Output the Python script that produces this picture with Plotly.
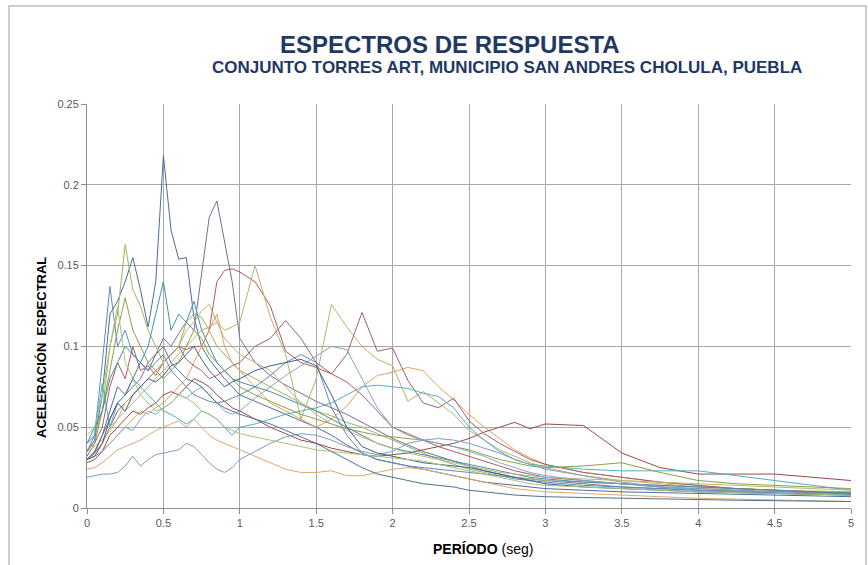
import plotly.graph_objects as go

# Period grid (seg)
PERIOD = [0.00, 0.05, 0.10, 0.15, 0.20, 0.25, 0.30, 0.35, 0.40, 0.45, 0.50, 0.55, 0.60, 0.65, 0.70,
          0.75, 0.80, 0.85, 0.90, 0.95, 1.00,
          1.1, 1.2, 1.3, 1.4, 1.5, 1.6, 1.7, 1.8, 1.9, 2.0, 2.1, 2.2, 2.3, 2.4, 2.5, 2.6, 2.7, 2.8, 2.9, 3.0,
          3.25, 3.5, 3.75, 4.0, 4.25, 4.5, 4.75, 5.0]

S1 = [0.035, 0.042, 0.07, 0.12, 0.128, 0.14, 0.155, 0.135, 0.112, 0.14, 0.218, 0.172, 0.154, 0.155, 0.118, 0.1, 0.092, 0.086, 0.08, 0.075, 0.07,
      0.066, 0.062, 0.058, 0.054, 0.05, 0.045, 0.039, 0.034, 0.03, 0.028, 0.026, 0.024, 0.022, 0.02, 0.018, 0.016, 0.015, 0.014, 0.013, 0.012,
      0.011, 0.01, 0.0095, 0.009, 0.0085, 0.008, 0.0075, 0.007]
S2 = [0.03, 0.034, 0.045, 0.055, 0.065, 0.07, 0.075, 0.08, 0.09, 0.095, 0.105, 0.1, 0.108, 0.115, 0.11, 0.145, 0.18, 0.19, 0.165, 0.14, 0.105,
      0.09, 0.082, 0.076, 0.071, 0.066, 0.062, 0.058, 0.053, 0.048, 0.043, 0.039, 0.035, 0.032, 0.029, 0.026, 0.023, 0.021, 0.019, 0.018, 0.017,
      0.015, 0.013, 0.012, 0.011, 0.0105, 0.01, 0.0095, 0.009]
S3 = [0.032, 0.04, 0.05, 0.075, 0.09, 0.08, 0.1, 0.085, 0.088, 0.082, 0.09, 0.095, 0.1, 0.098, 0.1, 0.1, 0.11, 0.14, 0.147, 0.148, 0.146,
      0.14, 0.125, 0.097, 0.09, 0.087, 0.083, 0.078, 0.07, 0.06, 0.05, 0.046, 0.042, 0.038, 0.035, 0.032, 0.029, 0.026, 0.023, 0.021, 0.019,
      0.017, 0.015, 0.013, 0.012, 0.011, 0.01, 0.0095, 0.009]
S4 = [0.04, 0.045, 0.06, 0.1, 0.12, 0.163, 0.135, 0.125, 0.11, 0.1, 0.09, 0.095, 0.1, 0.115, 0.12, 0.118, 0.11, 0.1, 0.095, 0.09, 0.085,
      0.08, 0.075, 0.07, 0.065, 0.06, 0.057, 0.053, 0.05, 0.046, 0.042, 0.038, 0.034, 0.03, 0.027, 0.024, 0.022, 0.02, 0.019, 0.018, 0.017,
      0.016, 0.015, 0.014, 0.013, 0.012, 0.011, 0.0105, 0.01]
S5 = [0.035, 0.038, 0.042, 0.048, 0.055, 0.06, 0.065, 0.07, 0.075, 0.08, 0.085, 0.09, 0.095, 0.1, 0.105, 0.11, 0.112, 0.115, 0.11, 0.112, 0.115,
      0.15, 0.118, 0.095, 0.055, 0.08, 0.126, 0.112, 0.1, 0.092, 0.088, 0.066, 0.072, 0.065, 0.058, 0.048, 0.042, 0.036, 0.032, 0.028, 0.025,
      0.02, 0.017, 0.015, 0.013, 0.012, 0.011, 0.01, 0.009]
S6 = [0.03, 0.032, 0.035, 0.04, 0.045, 0.05, 0.055, 0.06, 0.058, 0.062, 0.065, 0.07, 0.075, 0.08, 0.09, 0.1, 0.11, 0.12, 0.1, 0.09, 0.085,
      0.075, 0.065, 0.06, 0.055, 0.05, 0.055, 0.063, 0.075, 0.082, 0.084, 0.087, 0.085, 0.075, 0.067, 0.058, 0.05, 0.043, 0.036, 0.031, 0.027,
      0.022, 0.019, 0.016, 0.014, 0.012, 0.011, 0.01, 0.009]
S7 = [0.03, 0.034, 0.04, 0.05, 0.06, 0.065, 0.07, 0.075, 0.08, 0.085, 0.09, 0.095, 0.1, 0.092, 0.088, 0.085, 0.08, 0.082, 0.085, 0.088, 0.09,
      0.1, 0.105, 0.116, 0.105, 0.09, 0.083, 0.095, 0.121, 0.097, 0.099, 0.079, 0.065, 0.062, 0.068, 0.054, 0.046, 0.04, 0.035, 0.03, 0.027,
      0.022, 0.019, 0.016, 0.014, 0.012, 0.011, 0.01, 0.009]
S8 = [0.028, 0.03, 0.035, 0.045, 0.05, 0.055, 0.06, 0.058, 0.062, 0.065, 0.07, 0.072, 0.07, 0.075, 0.08, 0.078, 0.075, 0.07, 0.066, 0.062, 0.06,
      0.055, 0.05, 0.046, 0.042, 0.04, 0.037, 0.035, 0.033, 0.032, 0.033, 0.034, 0.036, 0.038, 0.04, 0.043, 0.047, 0.05, 0.053, 0.049, 0.052,
      0.051, 0.034, 0.025, 0.021, 0.021, 0.021, 0.019, 0.017]
S9 = [0.04, 0.045, 0.077, 0.05, 0.065, 0.07, 0.08, 0.075, 0.07, 0.065, 0.06, 0.058, 0.055, 0.052, 0.055, 0.06, 0.058, 0.055, 0.05, 0.045, 0.05,
      0.052, 0.055, 0.058, 0.06, 0.062, 0.065, 0.07, 0.075, 0.076, 0.075, 0.074, 0.071, 0.069, 0.062, 0.05, 0.042, 0.035, 0.03, 0.027, 0.026,
      0.024, 0.023, 0.023, 0.023, 0.02, 0.017, 0.014, 0.011]
S10 = [0.036, 0.04, 0.06, 0.085, 0.11, 0.13, 0.11, 0.1, 0.09, 0.085, 0.08, 0.085, 0.09, 0.1, 0.11, 0.105, 0.095, 0.09, 0.085, 0.08, 0.075,
       0.07, 0.066, 0.062, 0.058, 0.055, 0.052, 0.049, 0.047, 0.045, 0.044, 0.043, 0.042, 0.04, 0.038, 0.036, 0.033, 0.03, 0.028, 0.026, 0.025,
       0.026, 0.028, 0.022, 0.017, 0.015, 0.014, 0.013, 0.012]
S11 = [0.035, 0.045, 0.09, 0.137, 0.1, 0.11, 0.095, 0.09, 0.085, 0.09, 0.095, 0.085, 0.08, 0.075, 0.07, 0.068, 0.066, 0.065, 0.066, 0.068, 0.07,
       0.075, 0.082, 0.09, 0.095, 0.09, 0.062, 0.045, 0.034, 0.03, 0.028, 0.026, 0.025, 0.024, 0.023, 0.022, 0.021, 0.02, 0.018, 0.017, 0.016,
       0.014, 0.013, 0.012, 0.011, 0.01, 0.0095, 0.009, 0.0085]
S12 = [0.04, 0.05, 0.06, 0.08, 0.09, 0.1, 0.095, 0.09, 0.1, 0.12, 0.14, 0.11, 0.12, 0.115, 0.128, 0.11, 0.1, 0.09, 0.085, 0.08, 0.078,
       0.075, 0.072, 0.068, 0.064, 0.06, 0.055, 0.05, 0.045, 0.04, 0.037, 0.035, 0.033, 0.031, 0.029, 0.027, 0.025, 0.023, 0.021, 0.019, 0.018,
       0.016, 0.015, 0.014, 0.013, 0.012, 0.011, 0.01, 0.0095]
S13 = [0.03, 0.032, 0.035, 0.04, 0.045, 0.05, 0.048, 0.055, 0.06, 0.058, 0.062, 0.065, 0.07, 0.068, 0.072, 0.075, 0.07, 0.065, 0.06, 0.058, 0.06,
       0.068, 0.075, 0.082, 0.088, 0.094, 0.1, 0.098, 0.08, 0.062, 0.05, 0.045, 0.042, 0.04, 0.038, 0.035, 0.032, 0.028, 0.025, 0.022, 0.02,
       0.017, 0.015, 0.013, 0.012, 0.011, 0.01, 0.009, 0.008]
S14 = [0.019, 0.02, 0.021, 0.021, 0.022, 0.026, 0.032, 0.026, 0.03, 0.033, 0.034, 0.035, 0.036, 0.04, 0.038, 0.033, 0.028, 0.024, 0.022, 0.025, 0.03,
       0.035, 0.04, 0.044, 0.046, 0.045, 0.042, 0.038, 0.035, 0.033, 0.035, 0.04, 0.042, 0.043, 0.042, 0.04, 0.037, 0.034, 0.03, 0.027, 0.024,
       0.02, 0.016, 0.013, 0.011, 0.01, 0.009, 0.0085, 0.008]
S15 = [0.024, 0.025, 0.028, 0.032, 0.036, 0.038, 0.04, 0.042, 0.045, 0.048, 0.05, 0.052, 0.054, 0.05, 0.055, 0.05, 0.045, 0.042, 0.04, 0.038, 0.036,
       0.032, 0.028, 0.024, 0.022, 0.022, 0.023, 0.02, 0.02, 0.022, 0.024, 0.025, 0.024, 0.022, 0.02, 0.018, 0.016, 0.014, 0.012, 0.011, 0.01,
       0.009, 0.008, 0.007, 0.006, 0.0055, 0.005, 0.0045, 0.004]
S16 = [0.03, 0.035, 0.04, 0.05, 0.055, 0.065, 0.07, 0.075, 0.08, 0.085, 0.09, 0.095, 0.1, 0.11, 0.115, 0.122, 0.126, 0.115, 0.105, 0.1, 0.095,
       0.09, 0.085, 0.075, 0.065, 0.058, 0.052, 0.048, 0.044, 0.04, 0.037, 0.034, 0.032, 0.03, 0.028, 0.026, 0.024, 0.022, 0.021, 0.02, 0.019,
       0.018, 0.017, 0.016, 0.015, 0.014, 0.013, 0.012, 0.011]
S17 = [0.03, 0.032, 0.04, 0.055, 0.065, 0.06, 0.07, 0.075, 0.08, 0.078, 0.082, 0.088, 0.09, 0.095, 0.1, 0.092, 0.085, 0.08, 0.075, 0.078, 0.08,
       0.085, 0.088, 0.09, 0.092, 0.088, 0.07, 0.05, 0.038, 0.034, 0.032, 0.03, 0.028, 0.027, 0.026, 0.025, 0.023, 0.021, 0.019, 0.017, 0.015,
       0.013, 0.012, 0.011, 0.01, 0.0095, 0.009, 0.0085, 0.008]
S18 = [0.045, 0.05, 0.07, 0.1, 0.125, 0.09, 0.08, 0.07, 0.065, 0.06, 0.062, 0.065, 0.07, 0.068, 0.065, 0.06, 0.058, 0.055, 0.05, 0.048, 0.046,
       0.044, 0.042, 0.04, 0.038, 0.036, 0.035, 0.034, 0.033, 0.032, 0.031, 0.03, 0.029, 0.027, 0.025, 0.023, 0.021, 0.019, 0.017, 0.015, 0.014,
       0.013, 0.012, 0.011, 0.01, 0.0095, 0.009, 0.0085, 0.008]
S19 = [0.03, 0.035, 0.045, 0.06, 0.075, 0.07, 0.08, 0.09, 0.085, 0.095, 0.1, 0.09, 0.085, 0.08, 0.078, 0.075, 0.07, 0.065, 0.062, 0.06, 0.058,
       0.055, 0.052, 0.048, 0.044, 0.04, 0.035, 0.03, 0.025, 0.021, 0.019, 0.017, 0.015, 0.014, 0.013, 0.011, 0.01, 0.009, 0.008, 0.0075, 0.007,
       0.0065, 0.006, 0.0055, 0.005, 0.0048, 0.0045, 0.0042, 0.004]

SERIES = [S1, S2, S3, S4, S5, S6, S7, S8, S9, S10, S11, S12, S13, S14, S15, S16, S17, S18, S19]
COLORS = ["#4A6E9A", "#7E6A9A", "#B45A5A", "#9DB55A", "#BDB26A", "#E8A05A", "#A0606E", "#9A4A46",
          "#4FAFC8", "#8AA048", "#5F8AC0", "#3E93A8", "#7FA6D0", "#7C9CC4", "#E0A870", "#C0B27A",
          "#3D5F8E", "#A9C278", "#52708F"]

TITLE = "ESPECTROS DE RESPUESTA"
SUBTITLE = "CONJUNTO TORRES ART, MUNICIPIO SAN ANDRES CHOLULA, PUEBLA"
X_TITLE = "<b>PERÍODO</b> (seg)"
Y_TITLE = "ACELERACIÓN  ESPECTRAL"

fig = go.Figure()
for i, (vals, col) in enumerate(zip(SERIES, COLORS)):
    fig.add_trace(go.Scatter(x=PERIOD, y=vals, mode="lines",
                             line=dict(color=col, width=1), name=f"Registro {i+1}",
                             showlegend=False, hoverinfo="skip"))

FONT = "Liberation Sans, Arial, sans-serif"
L, R, T, B = 87, 17, 104, 57
W, H = 868, 565
pw, ph = W - L - R, H - T - B


def px2paper(px, py):
    return (px - L) / pw, (H - B - py) / ph


fig.update_layout(
    width=W, height=H,
    margin=dict(l=L, r=R, t=T, b=B),
    paper_bgcolor="white", plot_bgcolor="white",
    font=dict(family=FONT, color="#595959", size=11),
    xaxis=dict(range=[0, 5], dtick=0.5, tick0=0, showgrid=True, gridcolor="#A8A8A8", gridwidth=1,
               zeroline=False, showline=True, linecolor="#8C8C8C", linewidth=1,
               ticks="outside", ticklen=5, tickcolor="#8C8C8C", tickfont=dict(size=11, color="#595959")),
    yaxis=dict(range=[0, 0.25], dtick=0.05, tick0=0, showgrid=True, gridcolor="#A8A8A8", gridwidth=1,
               zeroline=False, showline=True, linecolor="#8C8C8C", linewidth=1,
               ticks="outside", ticklen=5, tickcolor="#8C8C8C", tickfont=dict(size=11, color="#595959")),
)

# outer chart frame
x0, y0 = px2paper(9, 6)
x1, y1 = px2paper(866, 572)
fig.add_shape(type="rect", xref="paper", yref="paper", x0=x0, y0=y1, x1=x1, y1=y0,
              line=dict(color="#BDBDBD", width=1.5), layer="below")

tx, ty = px2paper(450, 44)
fig.add_annotation(text=f"<b>{TITLE}</b>", xref="paper", yref="paper", x=tx, y=ty,
                   showarrow=False, font=dict(family=FONT, size=24, color="#1F3864"),
                   xanchor="center", yanchor="middle")
sx, sy = px2paper(507, 68)
fig.add_annotation(text=f"<b>{SUBTITLE}</b>", xref="paper", yref="paper", x=sx, y=sy,
                   showarrow=False, font=dict(family=FONT, size=17, color="#1F3864"),
                   xanchor="center", yanchor="middle")
ax_, ay_ = px2paper(483, 549)
fig.add_annotation(text=X_TITLE, xref="paper", yref="paper", x=ax_, y=ay_,
                   showarrow=False, font=dict(family=FONT, size=14, color="#000000"),
                   xanchor="center", yanchor="middle")
yx, yy = px2paper(41, 348)
fig.add_annotation(text=f"<b>{Y_TITLE}</b>", xref="paper", yref="paper", x=yx, y=yy,
                   showarrow=False, textangle=-90,
                   font=dict(family=FONT, size=13, color="#000000"),
                   xanchor="center", yanchor="middle")

fig.write_html("out.html")
